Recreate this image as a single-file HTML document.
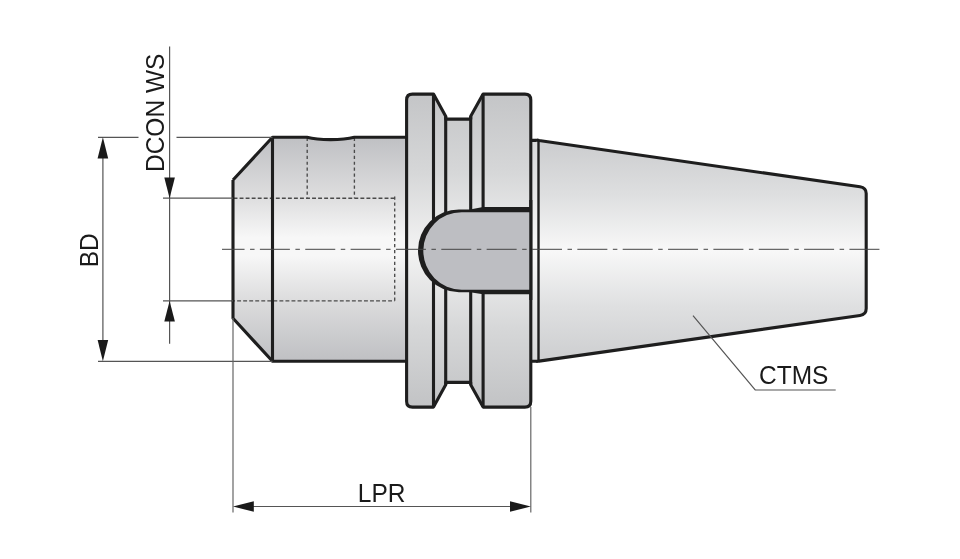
<!DOCTYPE html>
<html><head><meta charset="utf-8"><style>
html,body{margin:0;padding:0;background:#fff;width:960px;height:559px;overflow:hidden}
svg{display:block;will-change:transform}
</style></head><body>
<svg width="960" height="559" viewBox="0 0 960 559" font-family="Liberation Sans, sans-serif">
<defs>
<linearGradient id="gBody" x1="0" y1="137" x2="0" y2="361" gradientUnits="userSpaceOnUse">
<stop offset="0" stop-color="#bfc0c3"/><stop offset="0.28" stop-color="#dfdfe0"/><stop offset="0.45" stop-color="#f7f7f7"/><stop offset="0.53" stop-color="#f7f7f7"/><stop offset="0.73" stop-color="#dcdcdd"/><stop offset="1" stop-color="#bfc0c3"/>
</linearGradient>
<linearGradient id="gFl" x1="0" y1="94" x2="0" y2="407" gradientUnits="userSpaceOnUse">
<stop offset="0" stop-color="#c4c5c7"/><stop offset="0.25" stop-color="#d6d7d8"/><stop offset="0.5" stop-color="#f3f3f3"/><stop offset="0.75" stop-color="#d6d7d8"/><stop offset="1" stop-color="#c2c3c5"/>
</linearGradient>
<linearGradient id="gTap" x1="0" y1="140" x2="0" y2="361" gradientUnits="userSpaceOnUse">
<stop offset="0" stop-color="#cbccce"/><stop offset="0.25" stop-color="#dedfe0"/><stop offset="0.5" stop-color="#f8f8f8"/><stop offset="0.75" stop-color="#dfe0e1"/><stop offset="1" stop-color="#cdced0"/>
</linearGradient>
<linearGradient id="gStrip" x1="0" y1="140" x2="0" y2="361" gradientUnits="userSpaceOnUse">
<stop offset="0" stop-color="#d8d9da"/><stop offset="0.5" stop-color="#f8f8f8"/><stop offset="1" stop-color="#d8d9da"/>
</linearGradient>
</defs>

<!-- fills -->
<g stroke="none">
<path d="M233,180 L272.5,137.3 L306.9,137.3 C319,140.4 342,140.4 354.4,137.3 L406.6,137.3 L406.6,361.3 L272.5,361.3 L233,318.3 Z" fill="url(#gBody)"/>
<path d="M406.6,100 Q406.6,94.1 412.5,94.1 L433.5,94.1 L445.7,116.2 L445.7,119.1 L470.7,119.1 L470.7,116.2 L483.1,94.1 L524.9,94.1 Q530.8,94.1 530.8,100 L530.8,401.2 Q530.8,407.1 524.9,407.1 L483.1,407.1 L470.7,384.7 L470.7,382.4 L445.7,382.4 L445.7,384.7 L433.5,407.1 L412.5,407.1 Q406.6,407.1 406.6,401.2 Z" fill="url(#gFl)"/>
<path d="M530.8,140.4 L538.2,140.4 L860,186.8 Q866.2,187.7 866.2,193.6 L866.2,308.6 Q866.2,314.6 860,315.5 L538.2,361.3 L530.8,361.3 Z" fill="url(#gTap)"/>
<rect x="530.8" y="140.4" width="7.7" height="220.7" fill="url(#gStrip)"/>
</g>

<!-- dashed hidden lines -->
<g stroke="#4a4a4a" stroke-width="1.35" fill="none">
<path d="M233.56,198.2 H394.7" stroke-dasharray="3.9 2.14"/>
<path d="M231.1,300.9 H394.7" stroke-dasharray="3.9 2.14"/>
<path d="M394.7,196.5 V300.9" stroke-dasharray="3.2 2.74"/>
<path d="M307.2,137.8 V198.2 M354.4,137.8 V198.2" stroke-dasharray="3.2 2.76"/>
</g>

<!-- outlines -->
<g stroke="#1e1e1e" stroke-width="3.1" fill="none" stroke-linejoin="round">
<path d="M233,180 L272.5,137.3 L306.9,137.3 C319,140.4 342,140.4 354.4,137.3 L406.6,137.3 M233,180 L233,318.3 L272.5,361.3 L406.6,361.3"/>
<path d="M272.5,137.3 V361.3"/>
<path d="M406.6,100 Q406.6,94.1 412.5,94.1 L433.5,94.1 L445.7,116.2 L445.7,119.1 L470.7,119.1 L470.7,116.2 L483.1,94.1 L524.9,94.1 Q530.8,94.1 530.8,100 L530.8,401.2 Q530.8,407.1 524.9,407.1 L483.1,407.1 L470.7,384.7 L470.7,382.4 L445.7,382.4 L445.7,384.7 L433.5,407.1 L412.5,407.1 Q406.6,407.1 406.6,401.2 Z"/>
<path d="M433.5,94.1 V407.1 M445.7,116.2 V384.7 M470.7,116.2 V384.7 M483.1,94.1 V407.1"/>
<path d="M530.8,140.4 L536,140.4 Q537.5,139.9 539,140.5 L860,186.8 Q866.2,187.7 866.2,193.6 L866.2,308.6 Q866.2,314.6 860,315.5 L539,361.1 Q537.5,361.5 536,361.3 L530.8,361.3"/>
</g>
<!-- key slot -->
<path d="M530.8,207 H483.1 L470,209.4 H459 A41,41 0 0 0 418,250.5 A41,41.8 0 0 0 459,292.3 H470 L483.1,294.2 H530.8 Z" fill="#1e1e1e"/>
<path d="M530.8,212.2 H461.6 A38.3,38.4 0 0 0 423.3,250.6 A38.3,39.1 0 0 0 461.6,289.7 H530.8 Z" fill="#bdbec2"/>
<path d="M530.8,200 V300" stroke="#1e1e1e" stroke-width="3.1" fill="none"/>
<path d="M538.5,140.6 V361" stroke="#1e1e1e" stroke-width="2.4" fill="none"/>

<!-- center line -->
<path d="M222,249.3 H880" stroke="#444" stroke-width="1" fill="none" stroke-dasharray="30 5.5 4.5 5.35" stroke-dashoffset="7.45"/>

<!-- dimension lines -->
<g stroke="#555" stroke-width="1.2" fill="none">
<path d="M98,137.3 H138.5 M176.5,137.3 H272.5"/>
<path d="M98,361.3 H272.5"/>
<path d="M102.9,150 V348"/>
<path d="M169.6,46.6 V343.8"/>
<path d="M163,198.2 H233 M163,300.9 H233"/>
<path d="M233,318 V512.6 M530.8,407 V512.6" stroke="#666"/>
<path d="M240,506.5 H524"/>
<path d="M693,315.7 L755.2,390 H835.7"/>
</g>
<g fill="#1a1a1a" stroke="none">
<path d="M102.9,137.3 L97.6,158.6 L108.2,158.6 Z"/>
<path d="M102.9,361.3 L97.6,340 L108.2,340 Z"/>
<path d="M169.6,198.2 L164.3,177.5 L174.9,177.5 Z"/>
<path d="M169.6,300.9 L164.3,321.6 L174.9,321.6 Z"/>
<path d="M233,506.5 L253.8,501.2 L253.8,511.8 Z"/>
<path d="M530.8,506.5 L510,501.2 L510,511.8 Z"/>
</g>

<!-- text -->
<g fill="#1a1a1a" font-size="24.5">
<text transform="translate(164.3,172.0) rotate(-90) scale(1,1.035)">DCON WS</text>
<text transform="translate(97.6,267.3) rotate(-90) scale(1,1.035)">BD</text>
<text transform="translate(357.8,501.8) scale(1,1.035)">LPR</text>
<text transform="translate(759.0,384.3) scale(1,1.035)">CTMS</text>
</g>
</svg>
</body></html>
